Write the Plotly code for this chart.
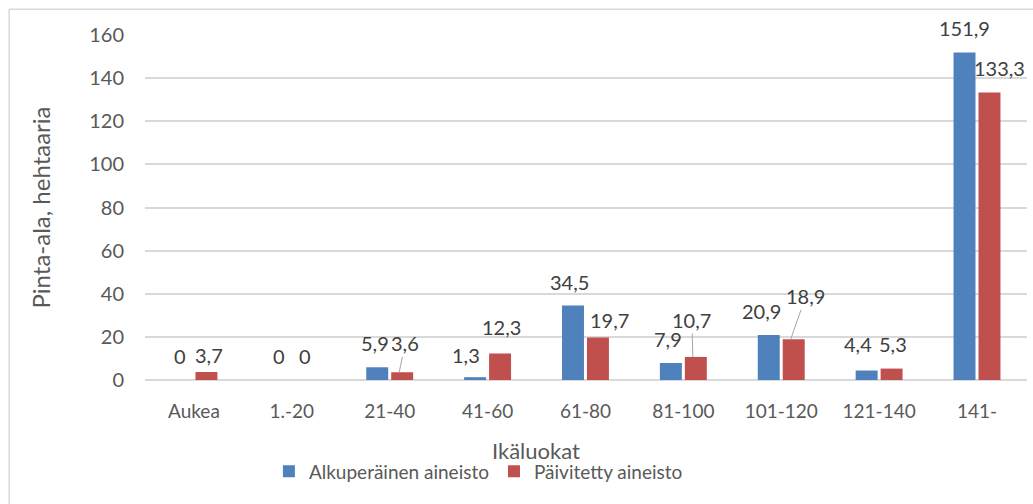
import plotly.graph_objects as go

_BLUE = "#4F81BD"
_RED = "#C0504D"
_GRID = "#D9D9D9"
_TEXT = "#595959"
_LABEL = "#404040"
_FONT = "Lato, 'Open Sans', sans-serif"

categories = ["Aukea", "1.-20", "21-40", "41-60", "61-80", "81-100", "101-120", "121-140", "141-"]
original = [0, 0, 5.9, 1.3, 34.5, 7.9, 20.9, 4.4, 151.9]
updated = [3.7, 0, 3.6, 12.3, 19.7, 10.7, 18.9, 5.3, 133.3]
series_names = ["Alkuperäinen aineisto", "Päivitetty aineisto"]

# label nudges in px (series, category) -> (dx, dy), like Excel's manual placement
_NUDGE = {
    (1, 0): (2, -7), (0, 1): (1, 0), (0, 2): (-1, 0),
    (0, 3): (-8, -2), (1, 3): (0, 2), (0, 4): (-2, 0), (1, 4): (11, -6),
    (0, 5): (-2, 0), (0, 6): (-6, 0), (0, 7): (-8, 3), (1, 7): (0, 1),
    (0, 8): (1, 0), (1, 8): (9, 1),
}
# labels with leader lines: (series, category) -> (ax, ay) offset of text from bar top
_LEADER = {(1, 2): (6, -29), (1, 5): (-1, -37), (1, 6): (15, -43)}


def fmt(v):
    return "0" if v == 0 else f"{v:.1f}".replace(".", ",")


fig = go.Figure()
for name, vals, col in zip(series_names, [original, updated], [_BLUE, _RED]):
    fig.add_trace(go.Bar(x=categories, y=vals, name=name, marker_color=col,
                         marker_line_width=0))

annotations = []
for s, vals in enumerate([original, updated]):
    side = -13.5 if s == 0 else 13.5
    for i, v in enumerate(vals):
        if (s, i) in _LEADER:
            ax, ay = _LEADER[(s, i)]
            annotations.append(dict(
                x=categories[i], y=v, text=fmt(v), xshift=side - 4,
                showarrow=True, arrowhead=0, arrowwidth=1, arrowcolor="#A6A6A6",
                ax=ax, ay=ay, standoff=0,
                font=dict(family=_FONT, size=20, color=_LABEL)))
            continue
        dx, dy = _NUDGE.get((s, i), (0, 0))
        annotations.append(dict(
            x=categories[i], y=v, text=fmt(v), showarrow=False,
            xshift=side + dx, yshift=24 + dy, yanchor="middle",
            font=dict(family=_FONT, size=20, color=_LABEL)))

annotations.append(dict(
    xref="paper", yref="paper", x=0.443, y=-0.203, text="Ikäluokat",
    showarrow=False, yanchor="middle", font=dict(family=_FONT, size=22, color=_TEXT)))

fig.update_layout(
    width=1033, height=504,
    paper_bgcolor="white", plot_bgcolor="white",
    font=dict(family=_FONT, size=19, color=_TEXT),
    margin=dict(l=145, r=6, t=35, b=124, autoexpand=False),
    barmode="group", bargap=0.49, bargroupgap=0.12,
    showlegend=True,
    legend=dict(orientation="h", x=0.378, y=-0.265, xanchor="center", yanchor="middle",
                font=dict(size=19, color=_TEXT), itemwidth=30, traceorder="normal"),
    annotations=annotations,
    shapes=[
        dict(type="line", xref="paper", yref="paper", x0=-0.154, x1=-0.154, y0=-0.4, y1=1.075,
             line=dict(color=_GRID, width=1.5)),
        dict(type="line", xref="paper", yref="paper", x0=-0.154, x1=1.1, y0=1.075, y1=1.075,
             line=dict(color=_GRID, width=1.5)),
    ],
)
fig.update_xaxes(showgrid=False, showline=False, ticks="", tickfont=dict(size=19, color=_TEXT),
                 ticklabelstandoff=18)
fig.update_yaxes(range=[0, 160], dtick=20, gridcolor=_GRID, gridwidth=1.5,
                 zeroline=True, zerolinecolor=_GRID, zerolinewidth=1.5,
                 tickfont=dict(size=20, color=_TEXT), ticklabelstandoff=20,
                 title=dict(text="Pinta-ala, hehtaaria", font=dict(size=24, color=_TEXT), standoff=31))

fig.write_html("out.html", config={"displayModeBar": False},
               post_script="document.body.style.margin='0';")
